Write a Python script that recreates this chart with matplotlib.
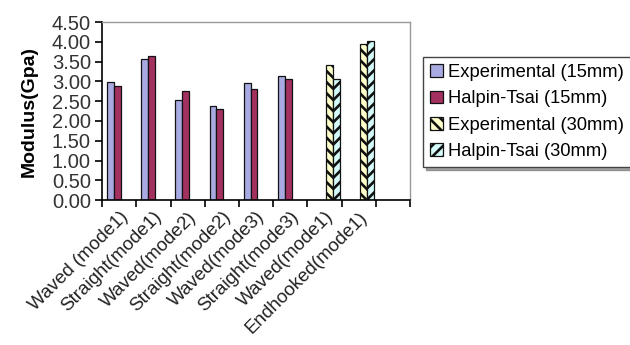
import numpy as np
import matplotlib
matplotlib.use("Agg")
import matplotlib.pyplot as plt
from matplotlib.ticker import FixedLocator, FormatStrFormatter

plt.rcParams['font.family'] = ['Liberation Sans', 'DejaVu Sans']
plt.rcParams['hatch.linewidth'] = 1.9

categories = ["Waved (mode1)", "Straight(mode1)", "Waved(mode2)", "Straight(mode2)",
              "Waved(mode3)", "Straight(mode3)", "Waved(mode1)", "Endhooked(mode1)", ""]
exp15 = [2.99, 3.56, 2.54, 2.39, 2.95, 3.14, np.nan, np.nan, np.nan]
ht15 = [2.88, 3.64, 2.77, 2.31, 2.80, 3.06, np.nan, np.nan, np.nan]
exp30 = [np.nan, np.nan, np.nan, np.nan, np.nan, np.nan, 3.41, 3.94, np.nan]
ht30 = [np.nan, np.nan, np.nan, np.nan, np.nan, np.nan, 3.06, 4.02, np.nan]
series_names = ["Experimental (15mm)", "Halpin-Tsai (15mm)", "Experimental (30mm)", "Halpin-Tsai (30mm)"]
yticks = [0.0, 0.5, 1.0, 1.5, 2.0, 2.5, 3.0, 3.5, 4.0, 4.5]

fig = plt.figure(figsize=(6.3, 3.45), dpi=100)
ax = fig.add_axes([0.162, 0.42, 0.489, 0.516])

x = np.arange(len(categories))
w = 0.2
styles = [
    dict(color="#AAAAE2", hatch=None),
    dict(color="#A3305F", hatch=None),
    dict(color="#FFFFCC", hatch="\\\\\\"),
    dict(color="#D5FAFA", hatch="///"),
]
handles = []
for i, (vals, st, name) in enumerate(zip([exp15, ht15, exp30, ht30], styles, series_names)):
    b = ax.bar(x + (i - 1.3) * w, vals, width=w, facecolor=st["color"], edgecolor="#111111",
               linewidth=0.9, hatch=st["hatch"], label=name)
    handles.append(b)

ax.set_xlim(-0.5, len(categories) - 0.5)
ax.set_ylim(0, 4.5)
ax.yaxis.set_major_locator(FixedLocator(yticks))
ax.yaxis.set_major_formatter(FormatStrFormatter("%.2f"))
ax.set_xticks(x)
ax.set_xticklabels(categories, rotation=45, ha="right", rotation_mode="anchor")
ax.set_xticks(np.arange(-0.5, len(categories)), minor=True)
ax.tick_params(axis="x", which="major", length=0, pad=6, labelsize=13.5, labelcolor="#222222")
ax.tick_params(axis="x", which="minor", length=5, width=1.2, direction="out", color="black")
ax.tick_params(axis="y", length=5, width=1.2, direction="out", labelsize=14.5, labelcolor="#333333", pad=3)

for s in ["top", "right"]:
    ax.spines[s].set_color("#999999")
    ax.spines[s].set_linewidth(1.0)
for s in ["left", "bottom"]:
    ax.spines[s].set_color("black")
    ax.spines[s].set_linewidth(1.2)

ax.set_ylabel("Modulus(Gpa)", fontsize=14, fontweight="bold", labelpad=10)

leg = fig.legend(handles=handles, labels=series_names, loc="upper left",
                 bbox_to_anchor=(0.671, 0.835), fontsize=13.2, frameon=True, fancybox=False,
                 shadow=True, handlelength=0.7, handleheight=0.7, handletextpad=0.3,
                 labelspacing=0.5, borderpad=0.4, borderaxespad=0)
leg.get_frame().set_edgecolor("#444444")
leg.get_frame().set_linewidth(1.0)

fig.savefig("out.png", dpi=100)
